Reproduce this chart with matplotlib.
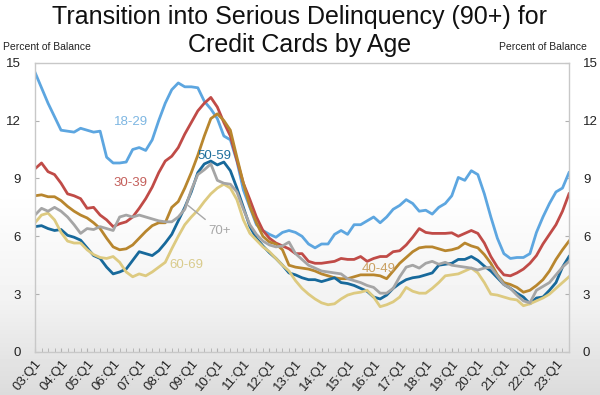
import numpy as np
import matplotlib
matplotlib.use("Agg")
import matplotlib.pyplot as plt

plt.rcParams['font.family'] = ['Liberation Sans', 'DejaVu Sans']

tick_labels = ['03:Q1', '04:Q1', '05:Q1', '06:Q1', '07:Q1', '08:Q1', '09:Q1',
               '10:Q1', '11:Q1', '12:Q1', '13:Q1', '14:Q1', '15:Q1', '16:Q1',
               '17:Q1', '18:Q1', '19:Q1', '20:Q1', '21:Q1', '22:Q1', '23:Q1']

age_18_29 = [14.5, 13.7, 12.9, 12.2, 11.5, 11.45, 11.4, 11.6, 11.5, 11.4,
             11.45, 10.1, 9.8, 9.8, 9.85, 10.5, 10.6, 10.45, 11.0, 12.0,
             12.9, 13.6, 13.95, 13.75, 13.75, 13.7, 13.0, 12.6, 12.1, 11.2,
             11.0, 9.9, 8.4, 7.5, 6.6, 6.3, 6.1, 5.95, 6.2, 6.3,
             6.2, 6.0, 5.6, 5.4, 5.6, 5.6, 6.1, 6.3, 6.1, 6.6,
             6.6, 6.8, 7.0, 6.7, 7.0, 7.4, 7.6, 7.9, 7.7, 7.3,
             7.35, 7.15, 7.5, 7.7, 8.1, 9.05, 8.9, 9.4, 9.2, 8.2,
             7.0, 5.9, 5.1, 4.85, 4.9, 4.9, 5.1, 6.2, 7.0, 7.7,
             8.3, 8.5, 9.3]
age_30_39 = [9.5, 9.8, 9.35, 9.2, 8.75, 8.2, 8.1, 7.95, 7.45, 7.5,
             7.1, 6.85, 6.5, 6.65, 6.75, 7.0, 7.45, 7.95, 8.55, 9.3,
             9.9, 10.15, 10.6, 11.3, 11.9, 12.5, 12.9, 13.2, 12.7, 11.9,
             11.2, 9.95, 8.75, 7.9, 7.0, 6.3, 5.9, 5.65, 5.5, 5.35,
             5.1, 5.1, 4.7, 4.6, 4.6, 4.65, 4.7, 4.85, 4.8, 4.8,
             4.95, 4.7, 4.85, 4.95, 4.95, 5.2, 5.25, 5.55, 5.95, 6.4,
             6.2, 6.15, 6.15, 6.15, 6.18, 6.0, 6.15, 6.3, 6.15, 5.65,
             4.95, 4.4, 4.0, 3.95, 4.1, 4.3, 4.6, 5.0, 5.6, 6.1,
             6.6, 7.3, 8.2]
age_40_49 = [8.1, 8.15, 8.05, 8.05, 7.85, 7.55, 7.3, 7.1, 6.95, 6.7,
             6.4, 5.9, 5.45, 5.3, 5.35, 5.55, 5.9, 6.25, 6.55, 6.7,
             6.7, 7.5, 7.8, 8.5, 9.3, 10.2, 11.2, 12.1, 12.35, 12.0,
             11.5, 10.1, 8.75, 7.55, 6.7, 6.0, 5.7, 5.6, 5.3, 4.5,
             4.4, 4.35, 4.3, 4.2, 4.05, 3.95, 3.85, 3.8, 3.8, 3.9,
             4.0, 4.0, 4.0, 3.95, 3.8, 4.2, 4.6, 4.9, 5.2, 5.4,
             5.45, 5.45, 5.35, 5.25, 5.3, 5.4, 5.65, 5.5, 5.4, 5.05,
             4.6, 4.0, 3.6, 3.5, 3.35, 3.1, 3.2, 3.45, 3.75, 4.2,
             4.8, 5.3, 5.75]
age_50_59 = [6.5, 6.55, 6.4, 6.3, 6.35, 6.05, 5.95, 5.8, 5.4, 5.0,
             4.85, 4.4, 4.05, 4.15, 4.3, 4.75, 5.2, 5.1, 5.0, 5.25,
             5.65, 6.1, 6.8, 7.5, 8.3, 9.3, 9.75, 9.9, 9.7, 9.85,
             9.4, 8.5, 7.5, 6.5, 5.9, 5.5, 5.15, 4.85, 4.5, 4.1,
             4.0, 3.85, 3.75, 3.75, 3.65, 3.75, 3.85, 3.6, 3.55, 3.45,
             3.3, 3.15, 2.85, 2.75, 2.95, 3.3, 3.55, 3.75, 3.85, 3.9,
             4.0, 4.1, 4.5, 4.55, 4.6, 4.8, 4.8, 4.95, 4.75, 4.45,
             4.2, 3.85, 3.5, 3.3, 3.05, 2.85, 2.5, 2.8, 2.85, 3.2,
             3.6, 4.4, 4.95]
age_60_69 = [6.7, 7.1, 7.2, 6.85, 6.2, 5.75, 5.65, 5.65, 5.3, 5.05,
             4.9, 4.85, 4.95, 4.65, 4.15, 3.9, 4.05, 3.95, 4.15, 4.4,
             4.65, 5.35, 6.0, 6.6, 7.0, 7.35, 7.8, 8.2, 8.5, 8.7,
             8.5, 7.9, 6.85, 6.15, 5.8, 5.45, 5.2, 4.85, 4.5, 4.2,
             3.7, 3.3, 3.0, 2.75, 2.55, 2.45, 2.5, 2.75, 2.95, 3.05,
             3.1, 3.2, 2.85, 2.35, 2.45, 2.6, 2.85, 3.35, 3.15, 3.05,
             3.05, 3.3, 3.6, 3.95, 4.0, 4.05, 4.2, 4.35, 4.1, 3.6,
             3.0, 2.95, 2.85, 2.75, 2.7, 2.4, 2.5, 2.65, 2.8, 3.0,
             3.3, 3.6, 3.9]
age_70_plus = [7.1, 7.45, 7.3, 7.5, 7.3, 7.0, 6.6, 6.15, 6.4, 6.35,
               6.5, 6.4, 6.3, 7.0, 7.1, 7.0, 7.1, 7.0, 6.9, 6.8,
               6.75, 6.75, 7.0, 7.4, 8.4, 9.2, 9.45, 9.75, 8.9, 8.75,
               8.7, 8.3, 7.4, 6.6, 6.1, 5.75, 5.55, 5.45, 5.5, 5.7,
               5.1, 4.8, 4.5, 4.35, 4.2, 4.15, 4.1, 4.05, 3.8, 3.7,
               3.6, 3.45, 3.35, 3.05, 3.05, 3.3, 3.9, 4.4, 4.5, 4.35,
               4.6, 4.7, 4.55, 4.65, 4.5, 4.45, 4.4, 4.35, 4.25, 4.35,
               4.4, 3.95, 3.5, 3.3, 2.95, 2.65, 2.55, 3.2, 3.4, 3.6,
               4.0, 4.4, 4.7]

quarters = np.arange(len(age_18_29))

fig = plt.figure(figsize=(6, 3.95), dpi=100)

# faded grey band at the bottom of the screenshot
bg = fig.add_axes([0, 0, 1, 1], zorder=0)
rows = np.arange(395)
shade = np.interp(rows, [0, 190, 300, 395], [1.0, 1.0, 0.95, 0.86])
bg.imshow(shade[:, None], aspect='auto', cmap='gray', vmin=0, vmax=1,
          extent=[0, 1, 0, 1])
bg.axis('off')

ax = fig.add_axes([35 / 600, 43 / 395, 534 / 600, 289.3 / 395], zorder=1)
ax.set_facecolor('none')

lw = 2.0
ax.plot(quarters, age_18_29, color='#5da6e0', lw=lw)
ax.plot(quarters, age_30_39, color='#c04b47', lw=lw)
ax.plot(quarters, age_40_49, color='#b8862e', lw=lw)
ax.plot(quarters, age_50_59, color='#17699b', lw=lw)
ax.plot(quarters, age_60_69, color='#ddca80', lw=lw)
ax.plot(quarters, age_70_plus, color='#a5a5a5', lw=lw)

ax.text(14.7, 11.93, '18-29', color='#7db6e2', fontsize=9.5, ha='center', va='center')
ax.text(14.6, 8.74, '30-39', color='#c4605c', fontsize=9.5, ha='center', va='center')
ax.text(27.6, 10.15, '50-59', color='#1f6f9c', fontsize=9.5, ha='center', va='center')
ax.text(23.2, 4.5, '60-69', color='#d9cb8c', fontsize=9.5, ha='center', va='center')
ax.text(52.7, 4.28, '40-49', color='#c9a062', fontsize=9.5, ha='center', va='center')
ax.annotate('70+', xy=(23.5, 7.6), xytext=(28.3, 6.28), color='#a8a8a8',
            fontsize=9.5, ha='center', va='center',
            arrowprops=dict(arrowstyle='-', color='#a8a8a8', lw=1,
                            shrinkA=3, shrinkB=0))

ax.set_xlim(0, 82)
ax.set_ylim(0, 15)
ax.set_yticks([0, 3, 6, 9, 12, 15])
ax.set_xticks(quarters[::4])
ax.set_xticks(quarters, minor=True)
ax.set_xticklabels(tick_labels, rotation=50, ha='right', rotation_mode='anchor',
                   fontsize=9.5, color='#222222')
ax.tick_params(axis='y', direction='in', length=3, color='#b0b0b0',
               labelsize=9.5, labelcolor='#222222', right=True, labelright=True,
               pad=10)
ax.tick_params(axis='x', which='both', direction='in', length=3,
               color='#b0b0b0', pad=4)
for side in ['top', 'right', 'left', 'bottom']:
    ax.spines[side].set_color('#c8c8c8')
    ax.spines[side].set_linewidth(1)

fig.text(0.5, 1 - 17 / 395, 'Transition into Serious Delinquency (90+) for',
         ha='center', va='center', fontsize=18, color='#111111')
fig.text(0.5, 1 - 45 / 395, 'Credit Cards by Age',
         ha='center', va='center', fontsize=18, color='#111111')
fig.text(3 / 600, 1 - 47 / 395, 'Percent of Balance', ha='left', va='center',
         fontsize=7.5, color='#222222')
fig.text(587 / 600, 1 - 47 / 395, 'Percent of Balance', ha='right', va='center',
         fontsize=7.5, color='#222222')

fig.savefig('out.png', dpi=100)
